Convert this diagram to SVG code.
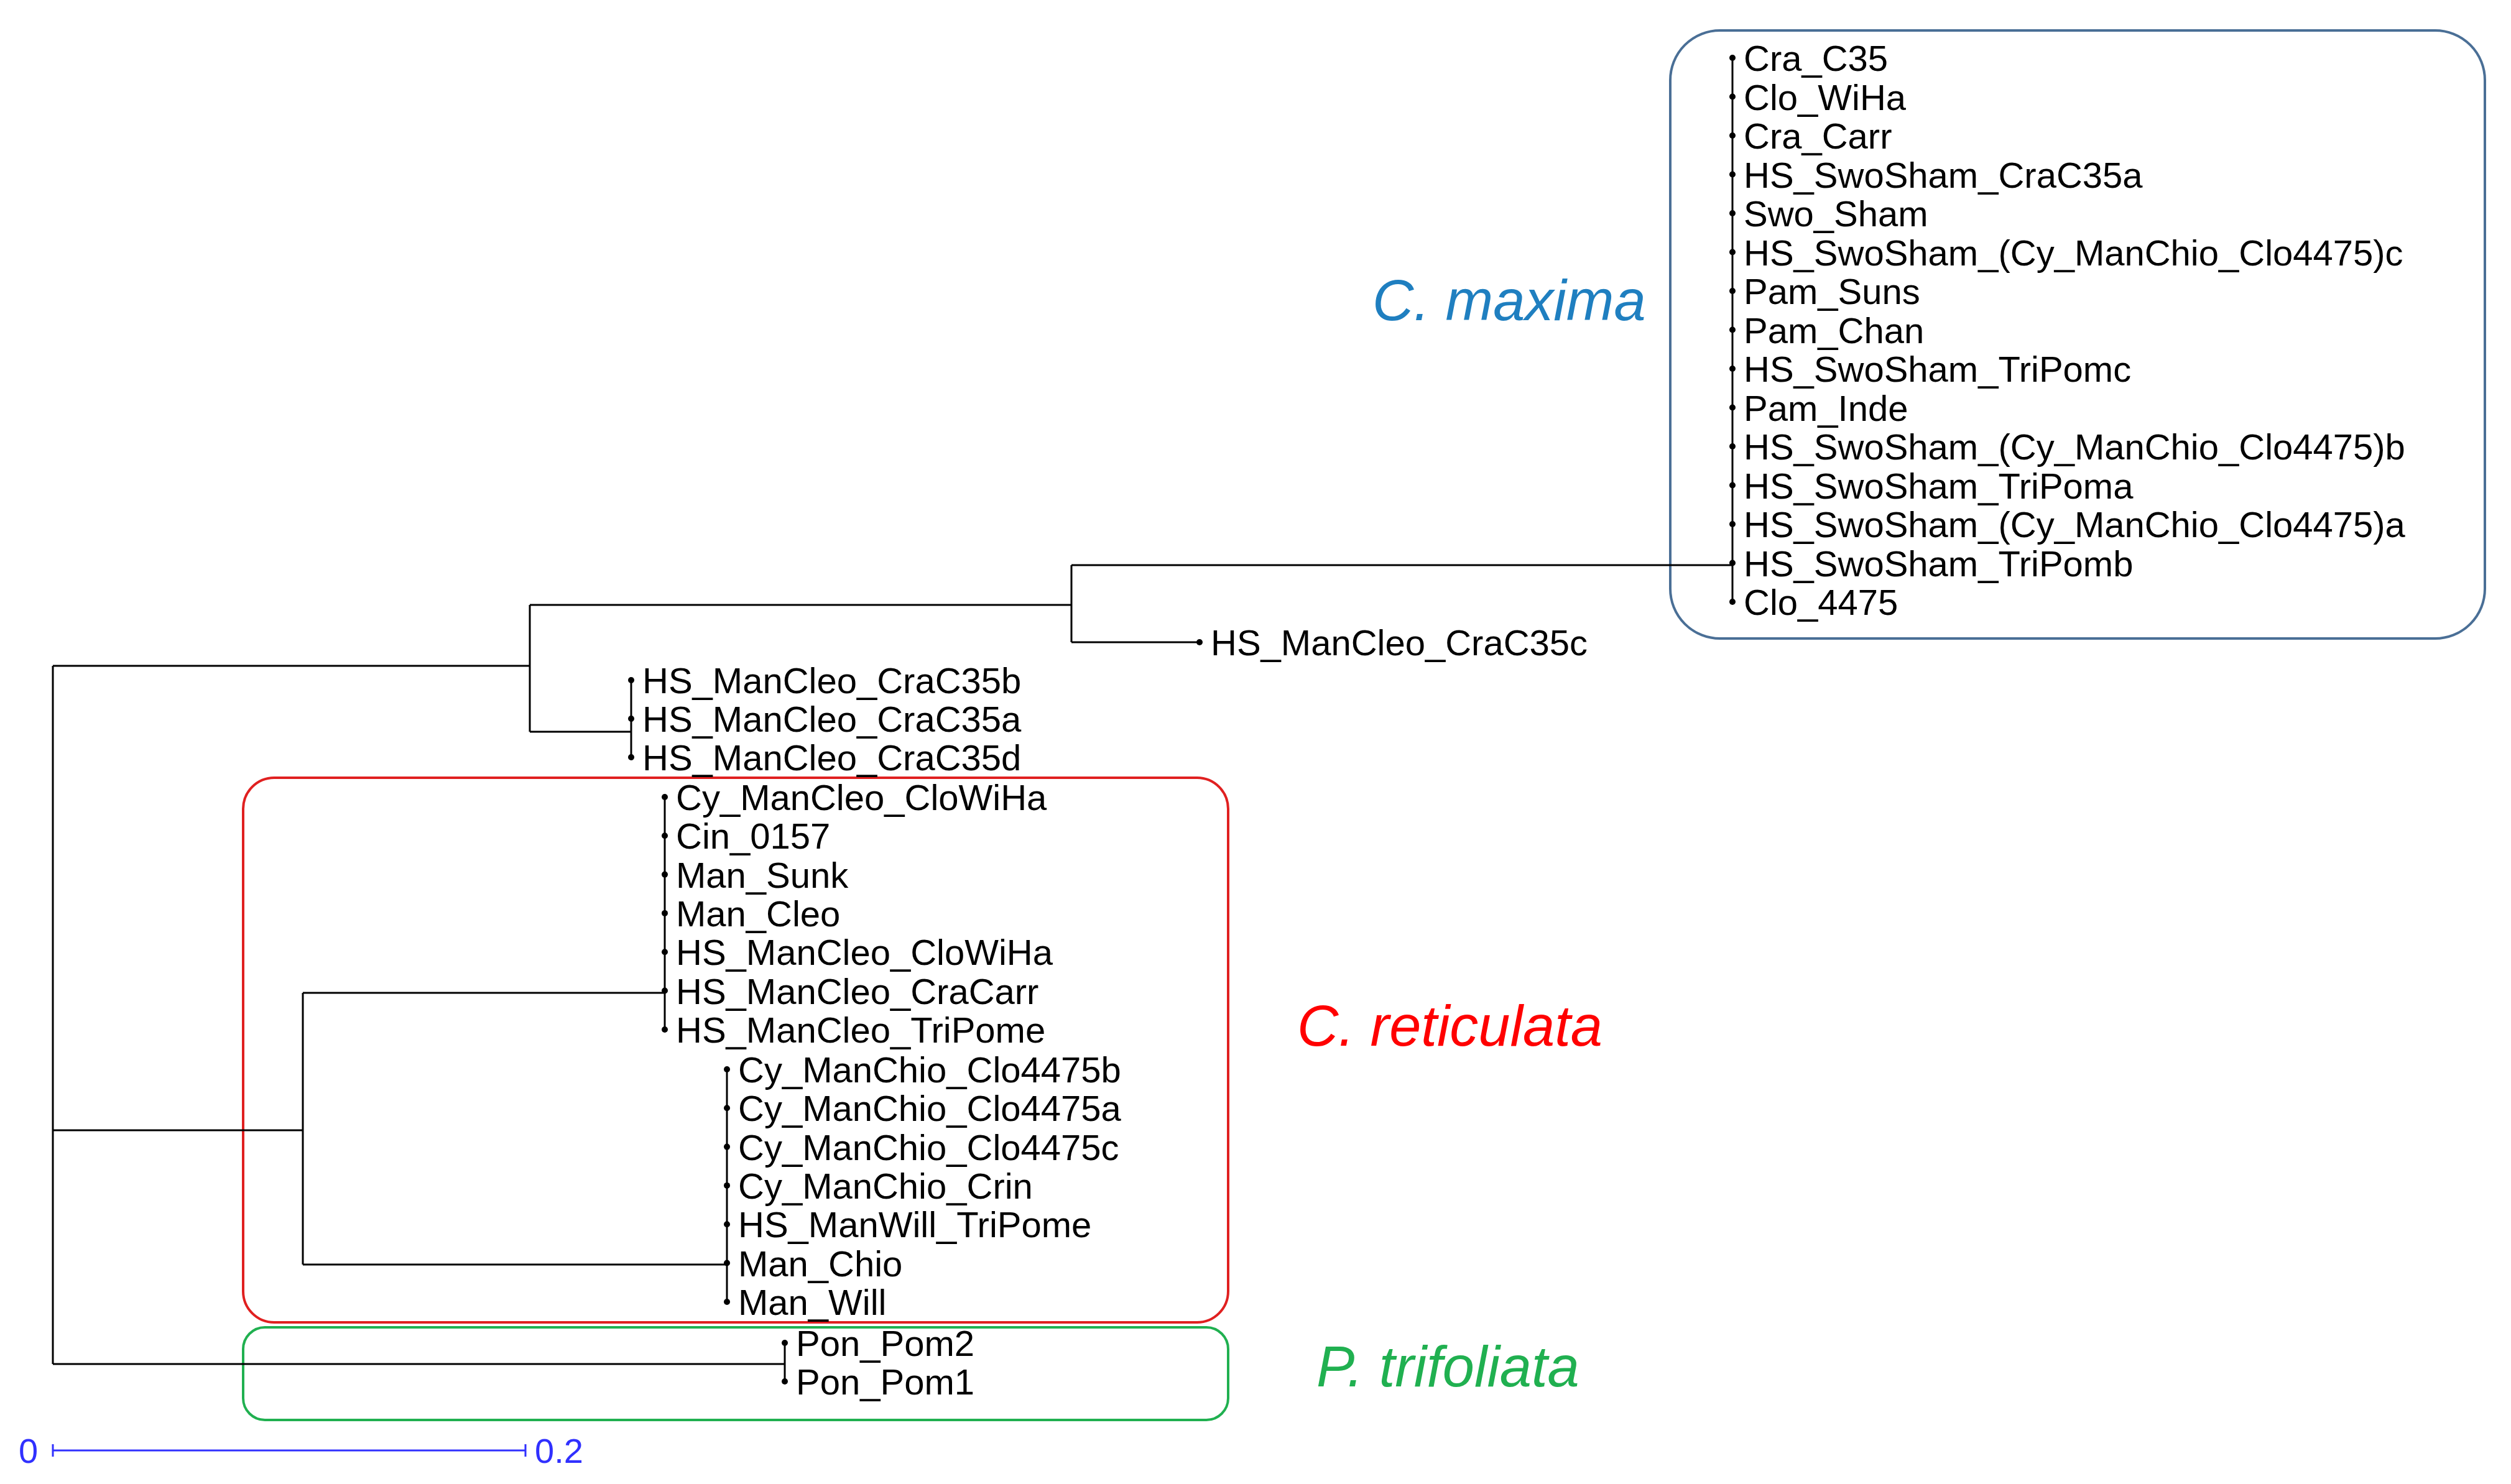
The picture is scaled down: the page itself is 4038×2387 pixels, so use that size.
<svg xmlns="http://www.w3.org/2000/svg" width="4038" height="2387" viewBox="0 0 4038 2387">
<style>
.t{font-family:"Liberation Sans",Arial,sans-serif;font-size:58px;fill:#000}
.e{stroke:#000;stroke-width:3;fill:none}
.d{fill:#000}
.lab{font-family:"Liberation Sans",Arial,sans-serif;font-style:italic;font-size:92px}
</style>
<rect width="4038" height="2387" fill="#fff"/>
<g id="boxes" fill="none" stroke-width="4">
<rect id="box-maxima" x="2686" y="49" width="1310" height="978" rx="80" stroke="#4a6f96"/>
<rect id="box-reticulata" x="391" y="1251" width="1584" height="876" rx="50" stroke="#e02020"/>
<rect id="box-trifoliata" x="391" y="2135" width="1584" height="149" rx="35" stroke="#20b050"/>
</g>
<g id="connectors" class="e">
<path d="M85 1071V2194M85 1071H852M85 1818H487M85 2194H1262"/>
<path d="M852 973V1177M852 973H1723M852 1177H1015"/>
<path d="M1723 909V1033M1723 909H2786M1723 1033H1929"/>
<path d="M2786 93V968"/>
<path d="M1015 1094V1218"/>
<path d="M487 1597V2034M487 1597H1069M487 2034H1169"/>
<path d="M1069 1282V1656M1169 1720V2094M1262 2160V2222"/>
</g>
<g id="maxima-leaves">
<g class="d"><circle cx="2786" cy="93" r="5"/><circle cx="2786" cy="155.5" r="5"/><circle cx="2786" cy="218" r="5"/><circle cx="2786" cy="280.5" r="5"/><circle cx="2786" cy="343" r="5"/><circle cx="2786" cy="405.5" r="5"/><circle cx="2786" cy="468" r="5"/><circle cx="2786" cy="530.5" r="5"/><circle cx="2786" cy="593" r="5"/><circle cx="2786" cy="655.5" r="5"/><circle cx="2786" cy="718" r="5"/><circle cx="2786" cy="780.5" r="5"/><circle cx="2786" cy="843" r="5"/><circle cx="2786" cy="905.5" r="5"/><circle cx="2786" cy="968" r="5"/></g>
<text class="t" x="2804" y="114">Cra_C35</text>
<text class="t" x="2804" y="176.5">Clo_WiHa</text>
<text class="t" x="2804" y="239">Cra_Carr</text>
<text class="t" x="2804" y="301.5">HS_SwoSham_CraC35a</text>
<text class="t" x="2804" y="364">Swo_Sham</text>
<text class="t" x="2804" y="426.5">HS_SwoSham_(Cy_ManChio_Clo4475)c</text>
<text class="t" x="2804" y="489">Pam_Suns</text>
<text class="t" x="2804" y="551.5">Pam_Chan</text>
<text class="t" x="2804" y="614">HS_SwoSham_TriPomc</text>
<text class="t" x="2804" y="676.5">Pam_Inde</text>
<text class="t" x="2804" y="739">HS_SwoSham_(Cy_ManChio_Clo4475)b</text>
<text class="t" x="2804" y="801.5">HS_SwoSham_TriPoma</text>
<text class="t" x="2804" y="864">HS_SwoSham_(Cy_ManChio_Clo4475)a</text>
<text class="t" x="2804" y="926.5">HS_SwoSham_TriPomb</text>
<text class="t" x="2804" y="989">Clo_4475</text>
</g>
<g id="leaf-CraC35c"><circle class="d" cx="1929" cy="1033" r="5"/><text class="t" x="1947" y="1054">HS_ManCleo_CraC35c</text></g>
<g id="cra-leaves">
<g class="d"><circle cx="1015" cy="1094" r="5"/><circle cx="1015" cy="1156" r="5"/><circle cx="1015" cy="1218" r="5"/></g>
<text class="t" x="1033" y="1115">HS_ManCleo_CraC35b</text>
<text class="t" x="1033" y="1177">HS_ManCleo_CraC35a</text>
<text class="t" x="1033" y="1239">HS_ManCleo_CraC35d</text>
</g>
<g id="mancleo-leaves">
<g class="d"><circle cx="1069" cy="1282" r="5"/><circle cx="1069" cy="1344.3" r="5"/><circle cx="1069" cy="1406.6" r="5"/><circle cx="1069" cy="1468.9" r="5"/><circle cx="1069" cy="1531.2" r="5"/><circle cx="1069" cy="1593.5" r="5"/><circle cx="1069" cy="1656" r="5"/></g>
<text class="t" x="1087" y="1303">Cy_ManCleo_CloWiHa</text>
<text class="t" x="1087" y="1365.3">Cin_0157</text>
<text class="t" x="1087" y="1427.6">Man_Sunk</text>
<text class="t" x="1087" y="1489.9">Man_Cleo</text>
<text class="t" x="1087" y="1552.2">HS_ManCleo_CloWiHa</text>
<text class="t" x="1087" y="1614.5">HS_ManCleo_CraCarr</text>
<text class="t" x="1087" y="1677">HS_ManCleo_TriPome</text>
</g>
<g id="manchio-leaves">
<g class="d"><circle cx="1169" cy="1720" r="5"/><circle cx="1169" cy="1782.3" r="5"/><circle cx="1169" cy="1844.6" r="5"/><circle cx="1169" cy="1906.9" r="5"/><circle cx="1169" cy="1969.2" r="5"/><circle cx="1169" cy="2031.5" r="5"/><circle cx="1169" cy="2094" r="5"/></g>
<text class="t" x="1187" y="1741">Cy_ManChio_Clo4475b</text>
<text class="t" x="1187" y="1803.3">Cy_ManChio_Clo4475a</text>
<text class="t" x="1187" y="1865.6">Cy_ManChio_Clo4475c</text>
<text class="t" x="1187" y="1927.9">Cy_ManChio_Crin</text>
<text class="t" x="1187" y="1990.2">HS_ManWill_TriPome</text>
<text class="t" x="1187" y="2052.5">Man_Chio</text>
<text class="t" x="1187" y="2115">Man_Will</text>
</g>
<g id="pon-leaves">
<g class="d"><circle cx="1262" cy="2160" r="5"/><circle cx="1262" cy="2222" r="5"/></g>
<text class="t" x="1280" y="2181">Pon_Pom2</text>
<text class="t" x="1280" y="2243">Pon_Pom1</text>
</g>
<g id="labels">
<text class="lab" x="2207" y="515" fill="#1f7fc0">C. maxima</text>
<text class="lab" x="2086" y="1682" fill="#ff0000">C. reticulata</text>
<text class="lab" x="2117" y="2230" fill="#20b050">P. trifoliata</text>
</g>
<g id="scale-bar">
<path d="M85 2333H845M85 2323V2343M845 2323V2343" stroke="#3030ff" stroke-width="3" fill="none"/>
<text x="30" y="2353" font-family="Liberation Sans,Arial,sans-serif" font-size="56" fill="#3030ff">0</text>
<text x="860" y="2353" font-family="Liberation Sans,Arial,sans-serif" font-size="56" fill="#3030ff">0.2</text>
</g>
</svg>
